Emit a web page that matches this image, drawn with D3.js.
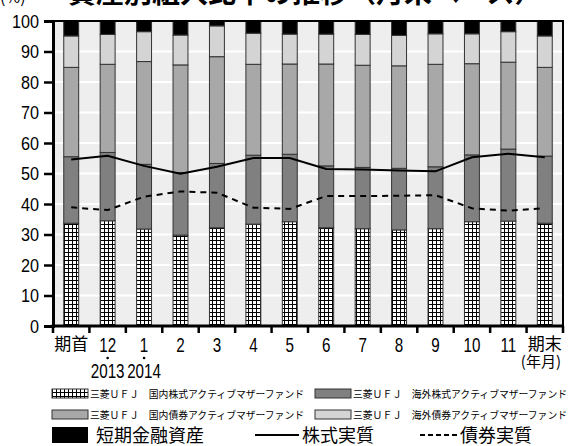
<!DOCTYPE html>
<html><head><meta charset="utf-8">
<script src="https://cdn.jsdelivr.net/npm/d3@7"></script>
<style>
body{margin:0;background:#fff;}
svg{display:block;}
</style></head><body>
<svg id="c" width="579" height="446"></svg>
<script>
// ---- data ----
const categories = ["期首","12","1","2","3","4","5","6","7","8","9","10","11","期末"];
const yearLabels = ["","2013","2014","","","","","","","","","","",""];
const yTicks = [0,10,20,30,40,50,60,70,80,90,100];
const seriesNames = [
  "三菱ＵＦＪ　国内株式アクティブマザーファンド",
  "三菱ＵＦＪ　海外株式アクティブマザーファンド",
  "三菱ＵＦＪ　国内債券アクティブマザーファンド",
  "三菱ＵＦＪ　海外債券アクティブマザーファンド",
  "短期金融資産"
];
const domesticStock = [33.7,34.5,31.8,29.8,32.2,33.4,34.2,32.2,31.9,31.5,31.9,34.2,34.4,33.7];
const foreignStock  = [21.8,22.4,21.2,20.5,21.1,22.6,22.1,20.3,20.1,20.2,20.3,21.9,23.6,22.0];
const domesticBond  = [29.3,28.9,33.7,35.3,35.0,29.8,29.6,33.4,33.5,33.6,33.6,29.9,28.5,29.1];
const foreignBond   = [10.3, 9.8, 9.8, 9.8,10.1,10.2, 9.8, 9.8,10.1,10.0,10.0, 9.8,10.0,10.3];
const shortTerm     = [ 4.9, 4.4, 3.5, 4.6, 1.6, 4.0, 4.3, 4.3, 4.4, 4.7, 4.2, 4.2, 3.5, 4.9];
const stockLine = [54.6,55.8,52.5,49.9,52.2,55.1,55.1,51.5,51.3,51.0,50.7,55.3,56.5,55.3];
const bondLine  = [38.9,38.0,42.4,44.1,43.7,38.8,38.4,42.6,42.6,42.7,42.9,38.6,37.8,38.6];
const lineNames = ["株式実質","債券実質"];
const titleText = "資産別組入比率の推移（月末ベース）";
const unitText = "(%)";
const xUnitText = "(年月)";

// ---- setup ----
const svg = d3.select("#c");
const L = 53, R = 563, T = 21, B = 326;
const x = d3.scaleBand().domain(categories).range([L, R]).paddingInner(0.59).paddingOuter(0.295);
const y = d3.scaleLinear().domain([0, 100]).range([B, T]);
const keys = ["ds","fs","db","fb","st"];
const fills = {ds:"url(#grid)", fs:"#808080", db:"#a8a8a8", fb:"#d4d4d4", st:"#000"};
const rows = categories.map((c,i)=>({cat:c, ds:domesticStock[i], fs:foreignStock[i], db:domesticBond[i], fb:foreignBond[i], st:shortTerm[i]}));
const stacked = d3.stack().keys(keys)(rows);

const defs = svg.append("defs");
const pat = defs.append("pattern").attr("id","grid").attr("width",4).attr("height",4).attr("patternUnits","userSpaceOnUse");
pat.append("rect").attr("width",4).attr("height",4).attr("fill","#fff");
pat.append("rect").attr("width",4).attr("height",1).attr("fill","#000");
pat.append("rect").attr("width",1).attr("height",4).attr("fill","#000");

const sans = "'Liberation Sans', Arial, sans-serif";
const cjk = "'Noto Sans CJK JP', sans-serif";

// title (cut at top, as in the reference)
svg.append("text").attr("x",0).attr("y",3).attr("font-family",cjk).attr("font-size",16).text(unitText);
svg.append("text").attr("x",68).attr("y",3).attr("font-family",cjk).attr("font-size",28).attr("font-weight","bold").text(titleText);

// plot background and grid
svg.append("rect").attr("x",L).attr("y",T).attr("width",R-L).attr("height",B-T).attr("fill","#eeeeee");
svg.append("g").selectAll("line").data(yTicks.filter(v=>v>0&&v<100)).join("line")
  .attr("x1",L).attr("x2",R).attr("y1",d=>y(d)).attr("y2",d=>y(d))
  .attr("stroke","#fff").attr("stroke-width",2);

// bars
svg.append("g").selectAll("g").data(stacked).join("g")
  .attr("fill",d=>fills[d.key])
  .selectAll("rect").data(d=>d).join("rect")
  .attr("x",d=>x(d.data.cat)).attr("width",x.bandwidth())
  .attr("y",d=>y(d[1])).attr("height",d=>y(d[0])-y(d[1]))
  .attr("stroke","#333").attr("stroke-width",1);

// lines
const line = d3.line().x((d,i)=>x(categories[i])+x.bandwidth()/2).y(d=>y(d));
svg.append("path").datum(stockLine).attr("d",line).attr("fill","none").attr("stroke","#000").attr("stroke-width",2);
svg.append("path").datum(bondLine).attr("d",line).attr("fill","none").attr("stroke","#000").attr("stroke-width",2).attr("stroke-dasharray","6,5");

// frame
svg.append("rect").attr("x",L).attr("y",T).attr("width",R-L).attr("height",B-T).attr("fill","none").attr("stroke","#000").attr("stroke-width",2);

// y axis
const ya = svg.append("g").attr("transform",`translate(${L},0)`).call(d3.axisLeft(y).tickValues(yTicks).tickSize(9).tickPadding(5));
ya.select(".domain").attr("stroke-width",3);
ya.selectAll(".tick line").attr("stroke-width",2.5);
ya.selectAll(".tick text").attr("font-family",sans).attr("font-size",18).attr("fill","#000").attr("dy","0.36em");
ya.selectAll(".tick text").each(function(){
  const t = d3.select(this); const xx = +t.attr("x");
  t.attr("x",null).attr("transform",`translate(${xx},0) scale(0.9,1)`);
});

// x axis
svg.append("line").attr("x1",L-1.5).attr("x2",R+1).attr("y1",B).attr("y2",B).attr("stroke","#000").attr("stroke-width",3);
const bounds = d3.range(categories.length+1).map(i=>x.range()[0]+i*x.step());
svg.append("g").selectAll("line").data(bounds).join("line")
  .attr("x1",d=>d).attr("x2",d=>d).attr("y1",B).attr("y2",B+7).attr("stroke","#000").attr("stroke-width",2.5);
const isNum = d=>/\d/.test(d);
const xl = svg.append("g").selectAll("g").data(categories).join("g")
  .attr("transform",d=>`translate(${x(d)+x.bandwidth()/2},${isNum(d)?352:350})`);
xl.append("text").attr("text-anchor","middle")
  .attr("font-family",d=>isNum(d)?sans:cjk).attr("font-size",d=>isNum(d)?20:17)
  .attr("transform",d=>isNum(d)?"scale(0.76,1)":null).text(d=>d);
const yl = svg.append("g").selectAll("g").data(categories.map((c,i)=>({c,yr:yearLabels[i]})).filter(d=>d.yr)).join("g")
  .attr("transform",d=>`translate(${x(d.c)+x.bandwidth()/2},0)`);
yl.append("circle").attr("cy",358).attr("r",1.3).attr("fill","#000");
yl.append("text").attr("text-anchor","middle").attr("y",378).attr("font-family",sans).attr("font-size",20)
  .attr("transform","scale(0.76,1)").text(d=>d.yr);
svg.append("text").attr("x",561).attr("y",367).attr("text-anchor","end").attr("font-family",cjk).attr("font-size",15).text(xUnitText);

// legend
const lg = svg.append("g");
const small = [
  {i:0, x:52, y:389, fill:"url(#grid)"},
  {i:1, x:315, y:389, fill:"#808080"},
  {i:2, x:52, y:410, fill:"#a8a8a8"},
  {i:3, x:315, y:410, fill:"#d4d4d4"}
];
small.forEach(s=>{
  lg.append("rect").attr("x",s.x).attr("y",s.y).attr("width",36).attr("height",9).attr("fill",s.fill).attr("stroke","#333").attr("stroke-width",1);
  lg.append("text").attr("x",s.x+38).attr("y",s.y+9).attr("font-family",cjk).attr("font-size",10)
    .attr("textLength",214).attr("lengthAdjust","spacingAndGlyphs").text(seriesNames[s.i]);
});
lg.append("rect").attr("x",52).attr("y",427).attr("width",36).attr("height",16).attr("fill","#000");
lg.append("text").attr("x",96).attr("y",442).attr("font-family",cjk).attr("font-size",18).text(seriesNames[4]);
lg.append("line").attr("x1",255).attr("x2",299).attr("y1",435).attr("y2",435).attr("stroke","#000").attr("stroke-width",2);
lg.append("text").attr("x",302).attr("y",442).attr("font-family",cjk).attr("font-size",18).text(lineNames[0]);
lg.append("line").attr("x1",420).attr("x2",457).attr("y1",435).attr("y2",435).attr("stroke","#000").attr("stroke-width",2).attr("stroke-dasharray","5,3");
lg.append("text").attr("x",460).attr("y",442).attr("font-family",cjk).attr("font-size",18).text(lineNames[1]);
</script>
</body></html>
